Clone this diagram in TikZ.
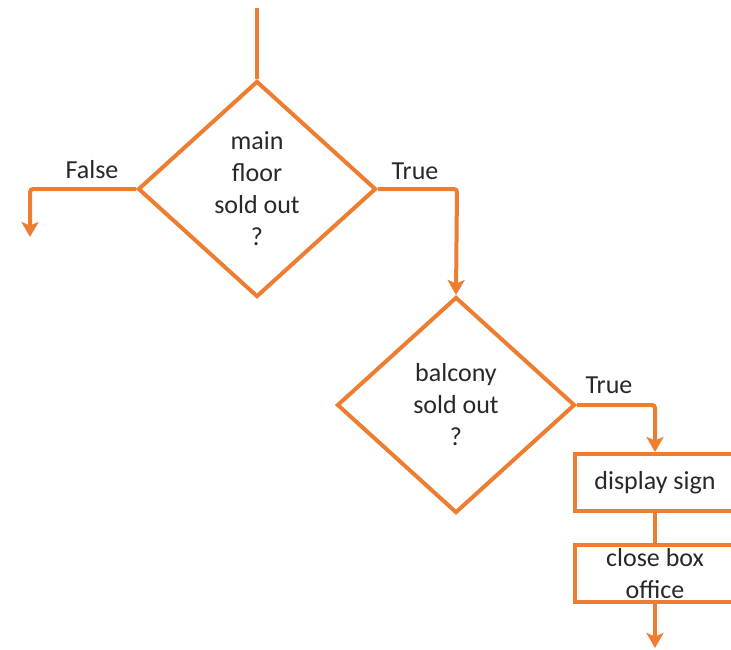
\documentclass[tikz,border=0pt]{standalone}
\usepackage{fontspec}
\setmainfont{Carlito}
\usetikzlibrary{shapes.geometric,arrows.meta}
\definecolor{flow}{RGB}{237,125,49}
\definecolor{ink}{RGB}{40,40,40}
\tikzset{
  flowline/.style={draw=flow,line width=4pt,rounded corners=3pt},
  flowarrow/.style={flowline,-{Stealth[length=15pt,width=17pt,inset=3.5pt]}},
  decision/.style={diamond,draw=flow,line width=4pt,inner sep=0pt,
    minimum width=238pt,minimum height=216pt,align=center,
    font=\fontsize{26}{32}\selectfont,text=ink},
  process/.style={rectangle,draw=flow,line width=4pt,inner sep=0pt,
    minimum width=160pt,minimum height=57pt,align=center,
    font=\fontsize{26}{32}\selectfont,text=ink},
  branchlabel/.style={font=\fontsize{26}{32}\selectfont,text=ink,inner sep=0pt}
}
\begin{document}
\begin{tikzpicture}[x=1pt,y=-1pt]
  \useasboundingbox (0,0) rectangle (731,649);
  \clip (0,0) rectangle (731,649);

  % decisions
  \node[decision] (d1) at (257,189) {main\\floor\\sold out\\?};
  \node[decision] (d2) at (456,405) {balcony\\sold out\\?};

  % actions
  \node[process] (b1) at (655,482.5) {display sign};
  \node[process] (b2) at (655,573.5) {close box\\office};

  % loose ends
  \coordinate (top) at (257,8);
  \coordinate (falseend) at (30,237);
  \coordinate (bottomend) at (655,648);

  % connectors
  \draw[flowline] (top) -- (d1.north);
  \draw[flowarrow] (d1.west) -- (30,189) -- (falseend);
  \draw[flowarrow] (d1.east) -- (457,189) -- (d2.north);
  \draw[flowarrow] (d2.east) -- (655,405) -- (b1.north);
  \draw[flowline] (b1.south) -- (b2.north);
  \draw[flowarrow] (b2.south) -- (bottomend);

  % branch labels
  \node[branchlabel] (lf) at (92,170) {False};
  \node[branchlabel] (lt1) at (415,171) {True};
  \node[branchlabel] (lt2) at (609,385) {True};
\end{tikzpicture}
\end{document}
